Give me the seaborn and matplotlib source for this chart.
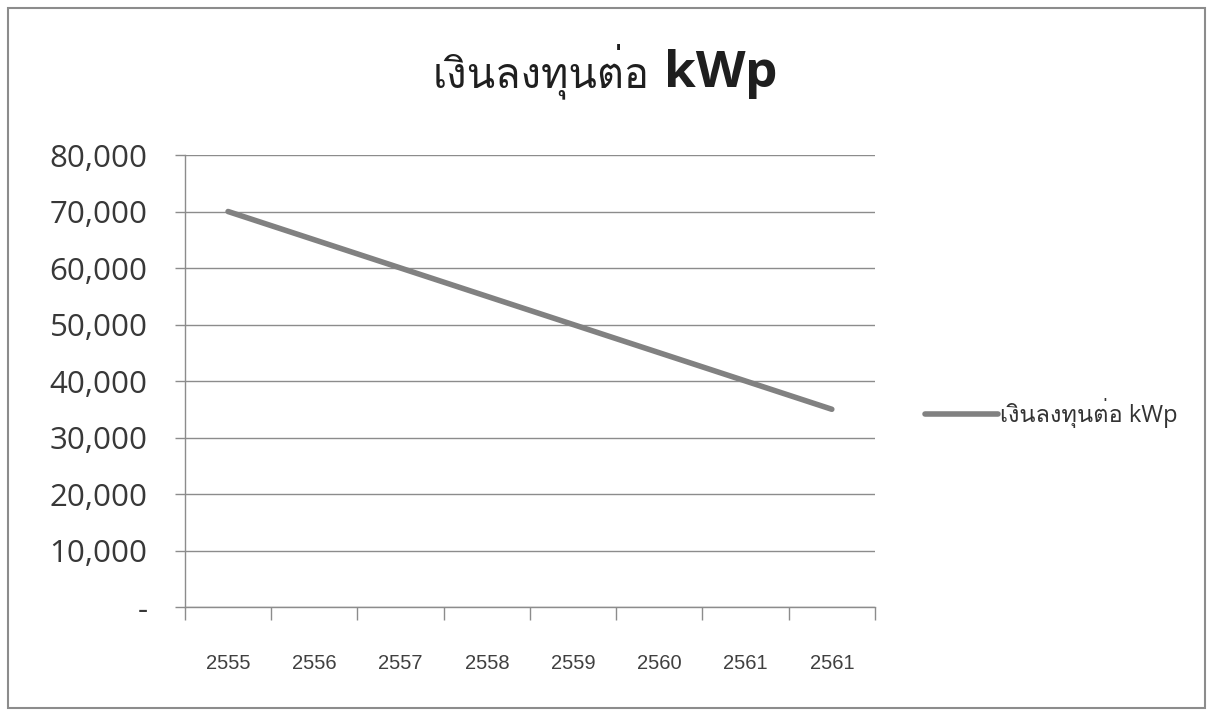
import matplotlib
matplotlib.use("Agg")
import matplotlib.pyplot as plt
import matplotlib.patches as mpatches
from matplotlib import font_manager
from matplotlib.ft2font import FT2Font
from matplotlib.ticker import FixedLocator, FuncFormatter
import numpy as np
import pandas as pd
import seaborn as sns

# data
years = ["2555", "2556", "2557", "2558", "2559", "2560", "2561", "2561"]
cost_per_kwp = [70000, 65000, 60000, 55000, 50000, 45000, 40000, 35000]
series_name = "เงินลงทุนต่อ kWp"
title_thai = "เงินลงทุนต่อ"
title_unit = "kWp"
y_ticks = [0, 10000, 20000, 30000, 40000, 50000, 60000, 70000, 80000]


def _find_thai_font():
    # pick the first installed family that carries Thai glyphs
    names = []
    for f in font_manager.fontManager.ttflist:
        try:
            cmap = FT2Font(f.fname).get_charmap()
        except Exception:
            continue
        if 0x0E07 in cmap and 0x0E19 in cmap:
            names.append(f.name)
    return names[0] if names else None


sns.set_theme(style="white")
thai = _find_thai_font()
families = ["Open Sans"] + ([thai] if thai else []) + ["DejaVu Sans"]
plt.rcParams["font.family"] = families

df = pd.DataFrame({"pos": np.arange(len(years)), "value": cost_per_kwp})

fig = plt.figure(figsize=(12.12, 7.16), dpi=100)
ax = fig.add_axes([0.1526, 0.1522, 0.5693, 0.6313])

sns.lineplot(data=df, x="pos", y="value", ax=ax, color="#818181", lw=4,
             solid_capstyle="round", label=series_name, legend=False)

ax.set_xlim(-0.5, len(years) - 0.5)
ax.set_ylim(0, 80000)
ax.set_xlabel("")
ax.set_ylabel("")

# y axis
ax.yaxis.set_major_locator(FixedLocator(y_ticks))
ax.yaxis.set_major_formatter(FuncFormatter(lambda v, p: "-" if v == 0 else f"{v:,.0f}"))
ax.tick_params(axis="y", which="major", direction="out", length=7, width=1,
               color="#8c8c8c", pad=20, labelsize=22.5, labelcolor="#383838", left=True)
ax.grid(axis="y", color="#8c8c8c", lw=1)
ax.grid(axis="x", visible=False)

# x axis: tick marks between categories, labels at centres
ax.xaxis.set_major_locator(FixedLocator(np.arange(len(years) + 1) - 0.5))
ax.xaxis.set_major_formatter(FuncFormatter(lambda v, p: ""))
ax.xaxis.set_minor_locator(FixedLocator(df["pos"]))
ax.xaxis.set_minor_formatter(FuncFormatter(lambda v, p: years[int(round(v))]))
ax.tick_params(axis="x", which="major", direction="out", length=9, width=1,
               color="#8c8c8c", bottom=True)
ax.tick_params(axis="x", which="minor", length=0, pad=34, labelsize=14.5,
               labelcolor="#404040", bottom=True)
for lab in ax.xaxis.get_minorticklabels():
    lab.set_family(["Liberation Sans Narrow", "Liberation Sans", "DejaVu Sans"])

for side in ["top", "right"]:
    ax.spines[side].set_visible(False)
for side in ["left", "bottom"]:
    ax.spines[side].set_color("#8c8c8c")
    ax.spines[side].set_linewidth(1)

# title: Thai part regular, unit bold
fig.text(0.536, 0.878, title_thai, ha="right", va="baseline", fontsize=30,
         color="#1f1f1f")
fig.text(0.548, 0.878, title_unit, ha="left", va="baseline", fontsize=37,
         fontweight="bold", color="#1f1f1f")

# legend to the right of the plot area
handles, labels = ax.get_legend_handles_labels()
fig.legend(handles, labels, loc="center left", bbox_to_anchor=(0.763, 0.423),
           frameon=False, fontsize=17, handlelength=3.1, handletextpad=0.1,
           borderpad=0, borderaxespad=0, labelcolor="#333333")

# outer chart border
fig.patches.append(mpatches.Rectangle((0.007, 0.011), 0.987, 0.978, fill=False,
                                      edgecolor="#8c8c8c", lw=1.5,
                                      transform=fig.transFigure, figure=fig))

fig.savefig("out.png", dpi=100)
